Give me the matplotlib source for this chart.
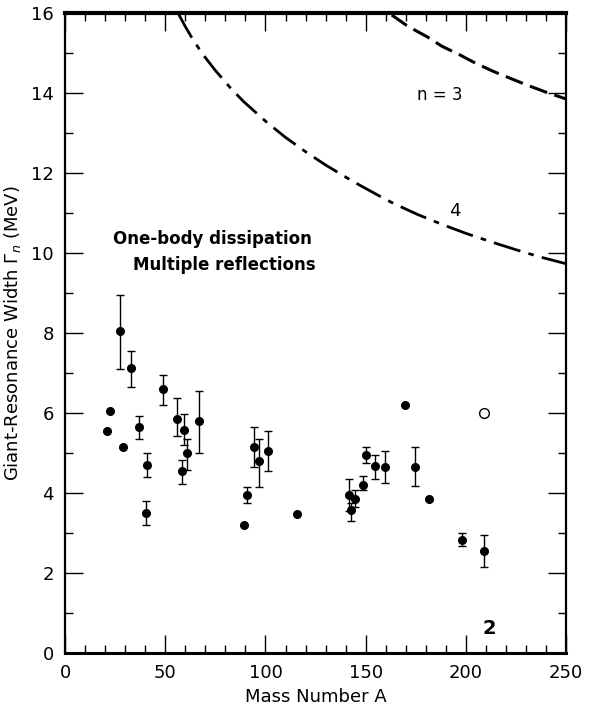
import matplotlib
matplotlib.use("Agg")
import matplotlib.pyplot as plt
from matplotlib.ticker import MultipleLocator

# ---- data ----
# points with error bars: A, width, upper error, lower error
A_err = [27.6, 32.9, 36.8, 40.9, 40.4, 48.8, 56.0, 59.4, 60.7, 58.5, 66.7,
         90.8, 94.3, 96.8, 101.3, 141.9, 142.7, 144.7, 148.7, 150.3, 154.7,
         159.8, 174.6, 197.8, 209.2]
G_err = [8.05, 7.14, 5.65, 4.71, 3.51, 6.62, 5.85, 5.59, 5.00, 4.55, 5.81,
         3.97, 5.15, 4.80, 5.07, 3.96, 3.58, 3.86, 4.21, 4.95, 4.69,
         4.67, 4.67, 2.84, 2.56]
G_up = [8.96, 7.57, 5.94, 5.00, 3.80, 6.97, 6.38, 5.98, 5.36, 4.84, 6.57,
        4.15, 5.67, 5.35, 5.55, 4.36, 3.77, 4.09, 4.43, 5.16, 4.96,
        5.05, 5.17, 3.00, 2.96]
G_lo = [7.10, 6.65, 5.36, 4.42, 3.20, 6.21, 5.43, 5.21, 4.59, 4.24, 5.00,
        3.77, 4.67, 4.16, 4.57, 3.56, 3.30, 3.67, 4.09, 4.75, 4.36,
        4.26, 4.18, 2.67, 2.15]

# points without error bars
A_pt = [20.8, 22.5, 28.8, 89.2, 115.6, 169.5, 181.5]
G_pt = [5.57, 6.07, 5.15, 3.20, 3.48, 6.22, 3.86]

# open circle
A_open = [208.9]
G_open = [6.00]

# theory curves (one-body dissipation, multiple reflections)
A_n4 = [56.5, 59.9, 64.0, 69.0, 74.9, 82.3, 89.0, 100.6, 110.0, 120.6, 130.0,
        140.6, 147.2, 156.3, 163.8, 176.0, 188.8, 200.0, 213.7, 225.0, 237.0, 250.0]
G_n4 = [16.0, 15.68, 15.33, 14.96, 14.58, 14.15, 13.80, 13.28, 12.90, 12.52, 12.21,
        11.89, 11.70, 11.45, 11.25, 10.97, 10.71, 10.50, 10.27, 10.09, 9.91, 9.74]
A_n3 = [163.0, 171.0, 180.5, 188.0, 197.1, 205.0, 213.7, 222.0, 230.4, 240.0, 250.0]
G_n3 = [15.96, 15.68, 15.42, 15.18, 14.96, 14.75, 14.55, 14.38, 14.21, 14.03, 13.86]

xticks = [0, 50, 100, 150, 200, 250]
yticks = [0, 2, 4, 6, 8, 10, 12, 14, 16]

# ---- figure ----
fig = plt.figure(figsize=(5.91, 7.07), dpi=100)
ax = fig.add_axes([0.110, 0.076, 0.848, 0.905])

yerr = [[g - l for g, l in zip(G_err, G_lo)], [u - g for g, u in zip(G_err, G_up)]]
ax.errorbar(A_err, G_err, yerr=yerr, fmt='o', color='black', ms=5.5,
            elinewidth=1.0, capsize=3, capthick=1.0)
ax.plot(A_pt, G_pt, 'o', color='black', ms=5.5)
ax.plot(A_open, G_open, 'o', mfc='white', mec='black', ms=7, mew=1.0)

ax.plot(A_n3, G_n3, color='black', lw=2.2, dashes=(6, 2.5),
        solid_joinstyle='round', dash_joinstyle='round')
ax.plot(A_n4, G_n4, color='black', lw=2.0, dashes=(10, 3, 2, 3),
        solid_joinstyle='round', dash_joinstyle='round')

ax.text(187, 13.96, 'n = 3', fontsize=12, fontweight='medium', ha='center', va='center')
ax.text(194.3, 11.05, '4', fontsize=13, fontweight='medium', ha='center', va='center')
ax.text(211.6, 0.62, '2', fontsize=14, fontweight='bold', ha='center', va='center')

ax.text(24, 10.37, 'One-body dissipation', fontsize=12, fontweight='bold',
        ha='left', va='center')
ax.text(34, 9.7, 'Multiple reflections', fontsize=12, fontweight='bold',
        ha='left', va='center')

ax.set_xlim(0, 250)
ax.set_ylim(0, 16)
ax.set_xticks(xticks)
ax.set_yticks(yticks)
ax.xaxis.set_minor_locator(MultipleLocator(10))
ax.yaxis.set_minor_locator(MultipleLocator(1))
ax.tick_params(which='both', direction='in', top=True, right=True, color='black')
ax.tick_params(which='major', length=13, width=1.0, labelsize=13, pad=8)
ax.tick_params(which='minor', length=5.5, width=1.0)

ax.spines['top'].set_linewidth(3.0)
ax.spines['bottom'].set_linewidth(2.2)
ax.spines['left'].set_linewidth(1.6)
ax.spines['right'].set_linewidth(1.6)

ax.set_xlabel('Mass Number A', fontsize=13, labelpad=4)
ax.set_ylabel(r'Giant-Resonance Width $\Gamma_n$ (MeV)', fontsize=13, labelpad=6)

fig.savefig('out.png', dpi=100)
